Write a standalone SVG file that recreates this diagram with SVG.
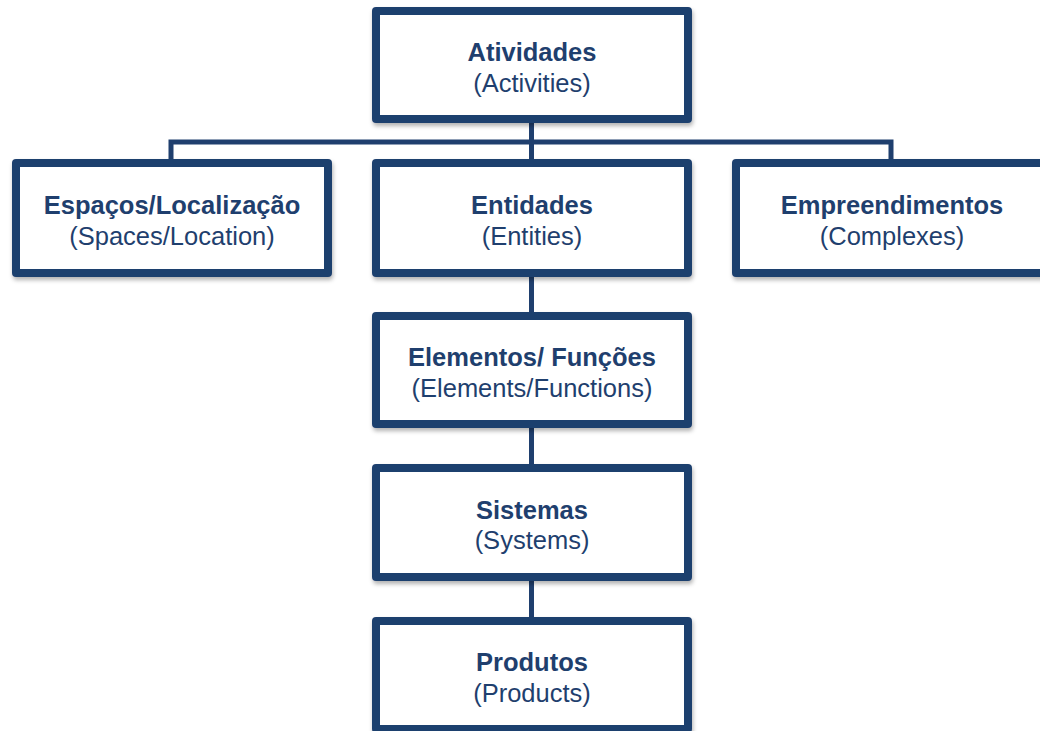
<svg xmlns="http://www.w3.org/2000/svg" width="1040" height="731" viewBox="0 0 1040 731">
<style>
.box{fill:#ffffff;stroke:#1f3f6e;stroke-width:8;stroke-linejoin:round;filter:url(#sh)}
.t{font-family:"Liberation Sans",Arial,sans-serif;font-size:25.5px;fill:#1f3f6e;text-anchor:middle}
.b{font-weight:bold}
.con{stroke:#1f3f6e;stroke-width:5;fill:none}
</style>
<defs>
<filter id="sh" x="-10%" y="-10%" width="120%" height="130%">
<feDropShadow dx="1" dy="3" stdDeviation="2" flood-color="#000000" flood-opacity="0.3"/>
</filter>
</defs>
<g id="connectors">
<path class="con" d="M531.5 123 V159 M171 159 V142 H891 V159 M531.5 277 V312 M531.5 428 V464 M531.5 581 V617"/>
</g>
<g id="atividades">
<rect class="box" x="376" y="11" width="312" height="108"/>
<text class="t b" x="532" y="61">Atividades</text>
<text class="t" x="532" y="91.5">(Activities)</text>
</g>
<g id="espacos">
<rect class="box" x="16" y="163" width="312" height="110"/>
<text class="t b" x="172" y="214">Espaços/Localização</text>
<text class="t" x="172" y="244.5">(Spaces/Location)</text>
</g>
<g id="entidades">
<rect class="box" x="376" y="163" width="312" height="110"/>
<text class="t b" x="532" y="214">Entidades</text>
<text class="t" x="532" y="244.5">(Entities)</text>
</g>
<g id="empreendimentos">
<rect class="box" x="736" y="163" width="312" height="110"/>
<text class="t b" x="892" y="214">Empreendimentos</text>
<text class="t" x="892" y="244.5">(Complexes)</text>
</g>
<g id="elementos">
<rect class="box" x="376" y="316" width="312" height="108"/>
<text class="t b" x="532" y="366">Elementos/ Funções</text>
<text class="t" x="532" y="396.5">(Elements/Functions)</text>
</g>
<g id="sistemas">
<rect class="box" x="376" y="468" width="312" height="109"/>
<text class="t b" x="532" y="518.5">Sistemas</text>
<text class="t" x="532" y="549">(Systems)</text>
</g>
<g id="produtos">
<rect class="box" x="376" y="621" width="312" height="108"/>
<text class="t b" x="532" y="671">Produtos</text>
<text class="t" x="532" y="701.5">(Products)</text>
</g>
</svg>
